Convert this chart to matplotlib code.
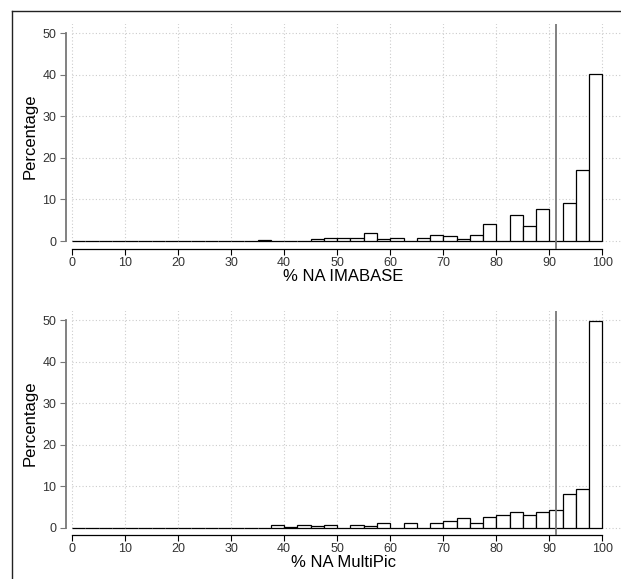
import numpy as np
import matplotlib
matplotlib.use("Agg")
import matplotlib.pyplot as plt
from matplotlib.lines import Line2D

plt.rcParams['font.family'] = ['Liberation Sans', 'DejaVu Sans']

# histogram bins (width 2.5 from 0 to 100)
edges = np.arange(0, 100.1, 2.5)

# percentage per bin, top panel
pct_imabase = [0, 0, 0, 0, 0, 0, 0, 0, 0, 0, 0, 0, 0, 0,
               0.3, 0, 0, 0, 0.4, 0.7, 0.7, 0.7, 2.0, 0.5, 0.7, 0,
               0.7, 1.4, 1.2, 0.5, 1.4, 4.2, 0, 6.3, 3.6, 7.8, 0.1,
               9.1, 17.0, 40.2]

# percentage per bin, bottom panel
pct_multipic = [0, 0, 0, 0, 0, 0, 0, 0, 0, 0, 0, 0, 0, 0, 0,
                0.65, 0.15, 0.7, 0.25, 0.7, 0, 0.7, 0.25, 1.0, 0, 1.0,
                0, 1.0, 1.5, 2.2, 1.0, 2.5, 3.0, 3.8, 3.0, 3.8, 4.2,
                8.0, 9.4, 49.9]

cutoff = 91.25
xticks = [0, 10, 20, 30, 40, 50, 60, 70, 80, 90, 100]
yticks = [0, 10, 20, 30, 40, 50]

W, H = 621, 579
fig = plt.figure(figsize=(W / 100, H / 100), dpi=100)

def panel(rect, values, xlabel):
	ax = fig.add_axes(rect)
	ax.set_xlim(-1.13, 103.5)
	ax.set_ylim(-1.8, 52.2)
	# dotted grid, only inside the data range
	ax.hlines(yticks, 0, 104, colors='#cccccc', linestyles=(0, (1, 2)), linewidth=0.8, zorder=0)
	ax.vlines(xticks, 0, 53, colors='#cccccc', linestyles=(0, (1, 2)), linewidth=0.8, zorder=0)
	ax.bar(edges[:-1], values, width=2.5, align='edge', facecolor='white',
	       edgecolor='black', linewidth=0.9, zorder=2)
	ax.axvline(cutoff, color='#777777', linewidth=1.3, zorder=3)
	for s in ['top', 'right']:
		ax.spines[s].set_visible(False)
	ax.spines['left'].set_bounds(0, 50)
	ax.spines['left'].set_color('#777777')
	ax.spines['left'].set_linewidth(1.3)
	ax.spines['bottom'].set_bounds(0, 100)
	ax.spines['bottom'].set_linewidth(0.9)
	ax.set_xticks(xticks)
	ax.set_yticks(yticks)
	ax.tick_params(axis='both', direction='out', length=4, width=0.8,
	               labelsize=9, labelcolor='#333333', pad=2)
	ax.tick_params(axis='y', color='#777777', pad=3)
	ax.set_ylabel('Percentage', fontsize=12, labelpad=3)
	ax.set_xlabel(xlabel, fontsize=12, labelpad=0)
	ax.patch.set_alpha(0)
	return ax

panel([66 / W, 1 - 248.5 / H, 1 - 66 / W, 224.5 / H], pct_imabase, '% NA IMABASE')
panel([66 / W, 1 - 535 / H, 1 - 66 / W, 224 / H], pct_multipic, '% NA MultiPic')

# frame lines of the cropped outer box
fig.add_artist(Line2D([11.5 / W, 1], [1 - 10.5 / H, 1 - 10.5 / H], color='#222222', linewidth=1.0))
fig.add_artist(Line2D([11.5 / W, 11.5 / W], [0, 1 - 10.5 / H], color='#222222', linewidth=1.0))

fig.savefig('out.png', dpi=100)
